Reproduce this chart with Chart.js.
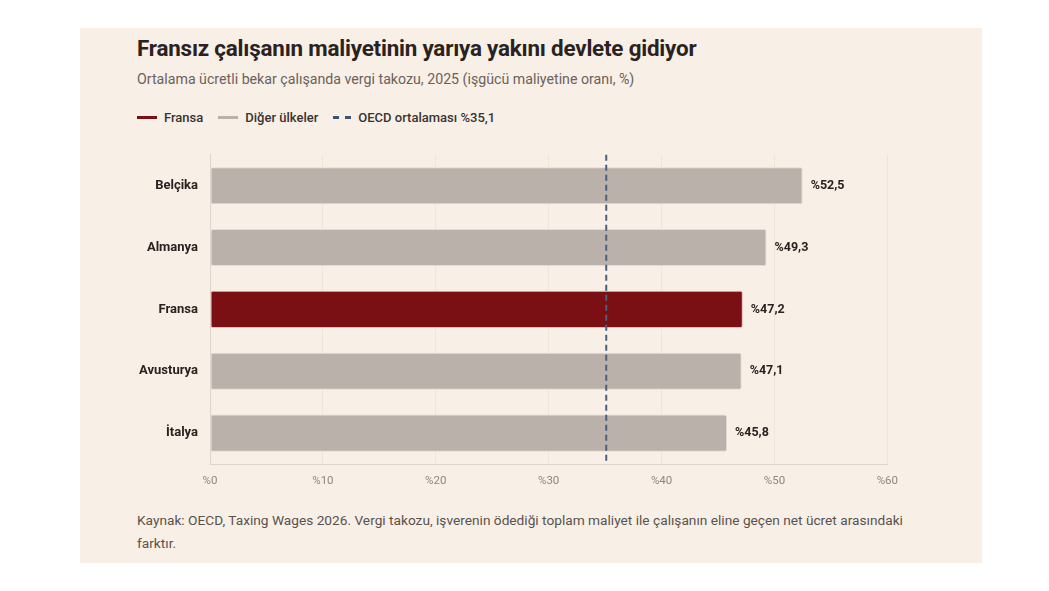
<!DOCTYPE html>
<html>
<head>
<meta charset="utf-8">
<script src="https://cdn.jsdelivr.net/npm/chart.js@4"></script>
<style>
  body { margin: 0; background: #fff; font-family: Roboto, "Liberation Sans", sans-serif; }
  #card { position: absolute; left: 80px; top: 28px; width: 902px; height: 535px; background: #f8efe6; }
  #title { position: absolute; left: 57px; top: 7px; font-size: 22.4px; font-weight: 700; color: #2a2220; white-space: nowrap; letter-spacing: -0.2px; }
  #subtitle { position: absolute; left: 57px; top: 43px; font-size: 14.2px; color: #6b625c; white-space: nowrap; }
  #legend { position: absolute; left: 57px; top: 82px; font-size: 13px; color: #3a3330; white-space: nowrap; display: flex; align-items: center; }
  .item { display: flex; align-items: center; margin-right: 15px; font-weight: 500; }
  .sw { width: 20px; height: 0; border-top: 3px solid; margin-right: 7px; }
  #wrap { position: absolute; left: 40px; top: 107px; width: 788px; height: 359px; }
  #foot { position: absolute; left: 57px; top: 481px; width: 790px; font-size: 13.7px; line-height: 23px; color: #5a524d; }
</style>
</head>
<body>
<div id="card">
  <div id="title">Fransız çalışanın maliyetinin yarıya yakını devlete gidiyor</div>
  <div id="subtitle">Ortalama ücretli bekar çalışanda vergi takozu, 2025 (işgücü maliyetine oranı, %)</div>
  <div id="legend">
    <div class="item"><span class="sw" style="border-color:#7a0f14"></span>Fransa</div>
    <div class="item"><span class="sw" style="border-color:#b9b1aa"></span>Diğer ülkeler</div>
    <div class="item"><span class="sw" style="border-top:3px dashed #3d5573;width:18px"></span>OECD ortalaması %35,1</div>
  </div>
  <div id="wrap"><canvas id="chart-bar"></canvas></div>
  <div id="foot">Kaynak: OECD, Taxing Wages 2026. Vergi takozu, işverenin ödediği toplam maliyet ile çalışanın eline geçen net ücret arasındaki farktır.</div>
</div>
<script>
const countries = ["Belçika", "Almanya", "Fransa", "Avusturya", "İtalya"];
const taxWedge = [52.5, 49.3, 47.2, 47.1, 45.8];
const highlight = "Fransa";
const oecdAverage = 35.1;
const xTicks = [0, 10, 20, 30, 40, 50, 60];

function fmt(v) {
    return "%" + String(v).replace(".", ",");
}

// value labels at bar ends
const valueLabels = {
    id: 'valueLabels',
    afterDatasetsDraw(chart) {
        const ctx = chart.ctx;
        const meta = chart.getDatasetMeta(0);
        ctx.save();
        ctx.font = "bold 12.5px Roboto, sans-serif";
        ctx.fillStyle = "#2a2220";
        ctx.textBaseline = "middle";
        meta.data.forEach((bar, i) => {
            ctx.fillText(fmt(taxWedge[i]), bar.x + 8, bar.y);
        });
        ctx.restore();
    }
};

// OECD average dashed line
const oecdLine = {
    id: 'oecdLine',
    afterDatasetsDraw(chart) {
        const ctx = chart.ctx;
        const x = chart.scales.x.getPixelForValue(oecdAverage);
        const area = chart.chartArea;
        ctx.save();
        ctx.strokeStyle = "#4a6080";
        ctx.lineWidth = 2;
        ctx.setLineDash([6, 4]);
        ctx.beginPath();
        ctx.moveTo(x, area.top);
        ctx.lineTo(x, area.bottom);
        ctx.stroke();
        ctx.restore();
    }
};

const data = {
    labels: countries,
    datasets: [{
        data: taxWedge,
        backgroundColor: countries.map(c => c === highlight ? '#7a0f14' : '#b9b1aa'),
        borderColor: countries.map(c => c === highlight ? '#f0b5b0' : '#e2dcd5'),
        borderWidth: 1,
        borderRadius: 2,
        borderSkipped: false,
        barPercentage: 0.6,
        categoryPercentage: 1
    }]
};

const config = {
    type: 'bar',
    data,
    options: {
        indexAxis: 'y',
        responsive: true,
        maintainAspectRatio: false,
        animation: false,
        layout: { padding: { top: 0, right: 14, left: 0, bottom: 0 } },
        plugins: {
            legend: { display: false },
            tooltip: { enabled: false }
        },
        scales: {
            x: {
                min: 0,
                max: 60,
                afterBuildTicks: (scale) => { scale.ticks = xTicks.map(v => ({ value: v })); },
                afterFit: (scale) => { scale.height = 30; },
                grid: { color: '#efe5da', drawTicks: false },
                border: { color: '#ddd5cc' },
                ticks: {
                    padding: 10,
                    color: '#8f8780',
                    font: { family: 'Roboto', size: 11.5 },
                    callback: (v) => '%' + v
                }
            },
            y: {
                afterFit: (scale) => { scale.width = 90; },
                grid: { display: false, drawTicks: false },
                border: { color: '#ddd5cc' },
                ticks: {
                    padding: 12,
                    color: '#2a2220',
                    font: { family: 'Roboto', size: 13, weight: 'bold' }
                }
            }
        }
    },
    plugins: [oecdLine, valueLabels]
};

const myChart = new Chart(
    document.getElementById('chart-bar'),
    config
);
</script>
</body>
</html>
